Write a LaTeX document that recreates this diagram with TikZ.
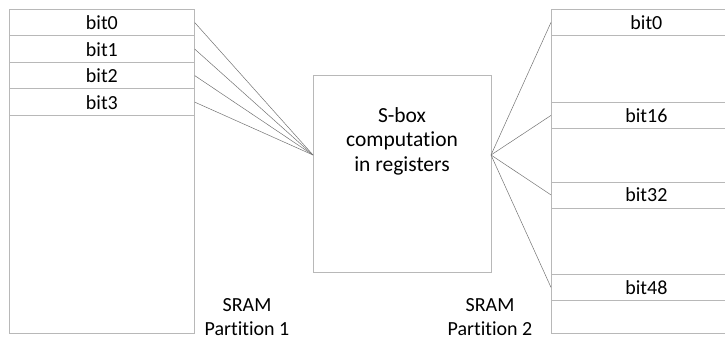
\documentclass[tikz,border=0pt]{standalone}
\usepackage{fontspec}
\setmainfont{Carlito}[Ligatures={NoCommon}]
\begin{document}
\begin{tikzpicture}[x=1pt,y=-1pt,
  frame/.style={draw=black!28,line width=0.8pt},
  cell/.style={frame,minimum width=185pt,minimum height=26.5pt,inner sep=0pt,anchor=north west,font=\fontsize{20}{24}\selectfont},
  rcell/.style={frame,minimum width=190pt,minimum height=26pt,inner sep=0pt,anchor=north west,font=\fontsize{20}{24}\selectfont},
  wire/.style={draw=black!55,line width=0.5pt},
  label/.style={align=center,font=\fontsize{20}{24}\selectfont,inner sep=0pt}]
\useasboundingbox (0,0) rectangle (725,342);

% SRAM partition 1: outer block and the first four bit rows
\node[frame,minimum width=185pt,minimum height=324pt,inner sep=0pt,anchor=north west] (L) at (9,9) {};
\node[cell] (l0) at (9,9) {bit0};
\node[cell] (l1) at (9,35.5) {bit1};
\node[cell] (l2) at (9,62) {bit2};
\node[cell] (l3) at (9,88.5) {bit3};

% S-box register block, with its input and output points
\node[frame,minimum width=178pt,minimum height=197pt,inner sep=0pt,anchor=north west] (S) at (313,75) {};
\node[label,font=\fontsize{21.5}{24.5}\selectfont] (Stext) at (402,141) {S-box\\computation\\in registers};
\coordinate (Sin) at (313,155);
\coordinate (Sout) at (491,155);

% SRAM partition 2: runs off the right edge
\coordinate (Rtr) at (725,9);
\coordinate (Rbr) at (725,333);
\draw[frame] (Rtr) -- (551,9) coordinate (Rtl) -- (551,333) coordinate (Rbl) -- (Rbr);
\begin{scope}
\clip (0,0) rectangle (725,342);
\node[rcell] (r0) at (551,9) {bit0};
\node[rcell] (r16) at (551,102) {bit16};
\node[rcell] (r32) at (551,181.5) {bit32};
\node[rcell] (r48) at (551,274) {bit48};
\end{scope}

% Captions
\node[label] (cap1) at (247,317) {SRAM\\Partition 1};
\node[label] (cap2) at (490,317) {SRAM\\Partition 2};

% Wiring between the partitions and the S-box
\foreach \n in {l0,l1,l2,l3}
  \draw[wire] (\n.east) -- (Sin);
\foreach \n in {r0,r16,r32,r48}
  \draw[wire] (Sout) -- (\n.west);
\end{tikzpicture}
\end{document}
